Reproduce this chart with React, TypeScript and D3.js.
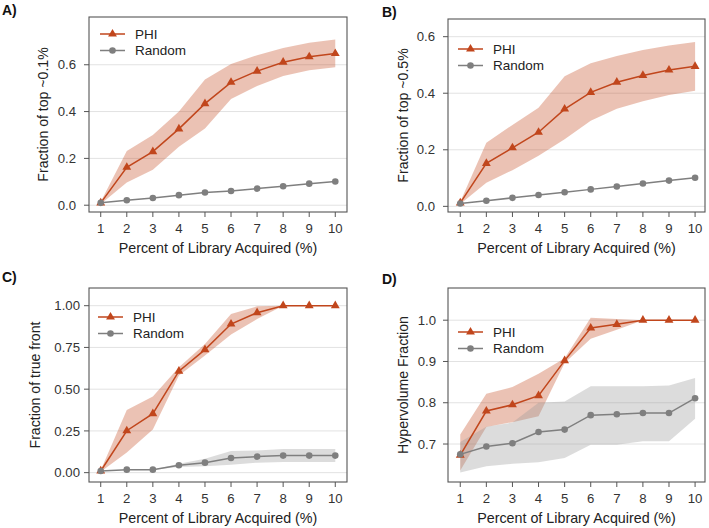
import * as d3 from 'd3';

// percent of library acquired
const pctAcquired = [1, 2, 3, 4, 5, 6, 7, 8, 9, 10];

// A) fraction of top ~0.1%
const phiA = [0.01, 0.162, 0.229, 0.326, 0.434, 0.525, 0.573, 0.611, 0.634, 0.648];
const phiALow = [0.005, 0.097, 0.151, 0.25, 0.328, 0.454, 0.509, 0.552, 0.577, 0.589];
const phiAHigh = [0.015, 0.232, 0.3, 0.4, 0.537, 0.603, 0.641, 0.672, 0.694, 0.708];
const randA = [0.01, 0.021, 0.031, 0.043, 0.054, 0.061, 0.071, 0.081, 0.092, 0.101];

// B) fraction of top ~0.5%
const phiB = [0.012, 0.152, 0.207, 0.262, 0.344, 0.403, 0.439, 0.463, 0.482, 0.495];
const phiBLow = [0.008, 0.083, 0.128, 0.179, 0.237, 0.303, 0.345, 0.372, 0.394, 0.409];
const phiBHigh = [0.016, 0.225, 0.288, 0.349, 0.46, 0.506, 0.532, 0.553, 0.569, 0.581];
const randB = [0.01, 0.02, 0.03, 0.04, 0.05, 0.06, 0.07, 0.081, 0.091, 0.101];

// C) fraction of true front
const phiC = [0.01, 0.251, 0.353, 0.608, 0.737, 0.89, 0.958, 1.0, 1.0, 1.0];
const phiCLow = [0.005, 0.12, 0.259, 0.582, 0.701, 0.827, 0.92, 1.0, 1.0, 1.0];
const phiCHigh = [0.015, 0.376, 0.456, 0.631, 0.771, 0.95, 0.996, 1.0, 1.0, 1.0];
const randC = [0.01, 0.018, 0.018, 0.044, 0.06, 0.088, 0.096, 0.102, 0.102, 0.102];
const randCLow = [0.01, 0.018, 0.018, 0.034, 0.038, 0.048, 0.06, 0.064, 0.064, 0.064];
const randCHigh = [0.01, 0.018, 0.018, 0.054, 0.084, 0.13, 0.133, 0.141, 0.141, 0.141];

// D) hypervolume fraction
const phiD = [0.673, 0.78, 0.795, 0.817, 0.902, 0.981, 0.99, 1.0, 1.0, 1.0];
const phiDLow = [0.636, 0.741, 0.753, 0.767, 0.896, 0.955, 0.977, 1.0, 1.0, 1.0];
const phiDHigh = [0.723, 0.822, 0.838, 0.87, 0.908, 1.006, 1.003, 1.0, 1.0, 1.0];
const randD = [0.675, 0.694, 0.702, 0.729, 0.735, 0.77, 0.772, 0.775, 0.775, 0.811];
const randDLow = [0.631, 0.646, 0.652, 0.656, 0.666, 0.698, 0.698, 0.707, 0.707, 0.761];
const randDHigh = [0.705, 0.742, 0.752, 0.8, 0.803, 0.84, 0.84, 0.84, 0.842, 0.86];

const xTicks = [1, 2, 3, 4, 5, 6, 7, 8, 9, 10];
const xLabel = 'Percent of Library Acquired (%)';
const legendNames = ['PHI', 'Random'];

const PHI = '#c1461c';
const GRAY = '#7f7f7f';
const FONT = 'Liberation Sans, Arial, sans-serif';

const panels = [
  {
    letter: 'A)', lx: 2, ly: 15,
    x0: 89, x1: 347, y0: 17, y1: 212, xDomain: [0.55, 10.45],
    yDomain: [-0.029, 0.804], yTicks: [0, 0.2, 0.4, 0.6], fmt: '.1f',
    yLabel: 'Fraction of top ~0.1%', yLabelX: 43, labelPad: 13,
    legX: 100, legY: 34,
    phi: phiA, phiLow: phiALow, phiHigh: phiAHigh, rand: randA,
  },
  {
    letter: 'B)', lx: 382, ly: 17,
    x0: 448, x1: 705, y0: 19, y1: 212, xDomain: [0.53, 10.38],
    yDomain: [-0.02, 0.6625], yTicks: [0, 0.2, 0.4, 0.6], fmt: '.1f',
    yLabel: 'Fraction of top ~0.5%', yLabelX: 403, labelPad: 13,
    legX: 458, legY: 49,
    phi: phiB, phiLow: phiBLow, phiHigh: phiBHigh, rand: randB,
  },
  {
    letter: 'C)', lx: 2, ly: 282,
    x0: 89, x1: 347, y0: 288, y1: 482, xDomain: [0.55, 10.45],
    yDomain: [-0.056, 1.106], yTicks: [0, 0.25, 0.5, 0.75, 1.0], fmt: '.2f',
    yLabel: 'Fraction of true front', yLabelX: 35, labelPad: 9,
    legX: 98, legY: 317,
    phi: phiC, phiLow: phiCLow, phiHigh: phiCHigh, rand: randC,
    randLow: randCLow, randHigh: randCHigh,
  },
  {
    letter: 'D)', lx: 382, ly: 284,
    x0: 448, x1: 705, y0: 288, y1: 482, xDomain: [0.53, 10.38],
    yDomain: [0.608, 1.078], yTicks: [0.7, 0.8, 0.9, 1.0], fmt: '.1f',
    yLabel: 'Hypervolume Fraction', yLabelX: 403, labelPad: 12,
    legX: 458, legY: 332,
    phi: phiD, phiLow: phiDLow, phiHigh: phiDHigh, rand: randD,
    randLow: randDLow, randHigh: randDHigh,
  },
];

const triangle = d3.symbol().type(d3.symbolTriangle).size(34);

function Panel({ p }: { p: any }) {
  const x = d3.scaleLinear().domain(p.xDomain).range([p.x0, p.x1]);
  const y = d3.scaleLinear().domain(p.yDomain).range([p.y1, p.y0]);
  const fmt = d3.format(p.fmt);

  const line = d3.line<number>().x((_, i) => x(pctAcquired[i])).y((d) => y(d));
  const band = (lo: number[], hi: number[]) =>
    d3.area<number>()
      .x((_, i) => x(pctAcquired[i]))
      .y0((_, i) => y(lo[i]))
      .y1((_, i) => y(hi[i]))(pctAcquired);

  const midY = (p.y0 + p.y1) / 2;

  return (
    <g>
      <text x={p.lx} y={p.ly} fontSize={14} fontWeight="bold" fill="#111">{p.letter}</text>

      {/* grid */}
      {p.yTicks.map((t: number) => (
        <line key={'g' + t} x1={p.x0} x2={p.x1} y1={y(t)} y2={y(t)} stroke="#e2e2e2" strokeWidth={1} />
      ))}

      {/* bands */}
      <path d={band(p.phiLow, p.phiHigh) ?? ''} fill={PHI} fillOpacity={0.33} />
      {p.randLow && (
        <path d={band(p.randLow, p.randHigh) ?? ''} fill="#9a9a9a" fillOpacity={0.35} />
      )}

      {/* PHI */}
      <path d={line(p.phi) ?? ''} fill="none" stroke={PHI} strokeWidth={1.5} />
      {p.phi.map((v: number, i: number) => (
        <path key={'t' + i} d={triangle() ?? ''} transform={`translate(${x(pctAcquired[i])},${y(v)})`} fill={PHI} />
      ))}

      {/* Random */}
      <path d={line(p.rand) ?? ''} fill="none" stroke={GRAY} strokeWidth={1.5} />
      {p.rand.map((v: number, i: number) => (
        <circle key={'c' + i} cx={x(pctAcquired[i])} cy={y(v)} r={3.3} fill={GRAY} />
      ))}

      {/* frame */}
      <rect x={p.x0} y={p.y0} width={p.x1 - p.x0} height={p.y1 - p.y0} fill="none" stroke="#555" strokeWidth={1.1} />

      {/* y axis */}
      {p.yTicks.map((t: number) => (
        <g key={'y' + t}>
          <line x1={p.x0 - 5} x2={p.x0} y1={y(t)} y2={y(t)} stroke="#555" />
          <text x={p.x0 - p.labelPad} y={y(t)} dy="0.35em" textAnchor="end" fontSize={13.2} fill="#333">{fmt(t)}</text>
        </g>
      ))}

      {/* x axis */}
      {xTicks.map((t) => (
        <g key={'x' + t}>
          <line x1={x(t)} x2={x(t)} y1={p.y1} y2={p.y1 + 5} stroke="#555" />
          <text x={x(t)} y={p.y1 + 21} textAnchor="middle" fontSize={13.2} fill="#333">{t}</text>
        </g>
      ))}

      <text x={(p.x0 + p.x1) / 2} y={p.y1 + 41} textAnchor="middle" fontSize={14.3} fill="#222">{xLabel}</text>
      <text transform={`translate(${p.yLabelX},${midY}) rotate(-90)`} textAnchor="middle" dy="0.35em" fontSize={14.1} fill="#222">{p.yLabel}</text>

      {/* legend */}
      {legendNames.map((name, i) => {
        const ly = p.legY + i * 16.5;
        const c = i === 0 ? PHI : GRAY;
        return (
          <g key={name}>
            <line x1={p.legX} x2={p.legX + 25} y1={ly} y2={ly} stroke={c} strokeWidth={1.5} />
            {i === 0 ? (
              <path d={triangle() ?? ''} transform={`translate(${p.legX + 12.5},${ly})`} fill={c} />
            ) : (
              <circle cx={p.legX + 12.5} cy={ly} r={3.3} fill={c} />
            )}
            <text x={p.legX + 35} y={ly} dy="0.35em" fontSize={13.5} fill="#222">{name}</text>
          </g>
        );
      })}
    </g>
  );
}

export default function App() {
  return (
    <svg
      width={709}
      height={528}
      viewBox="0 0 709 528"
      style={{ position: 'absolute', left: 0, top: 0, background: '#fff', fontFamily: FONT }}
    >
      {panels.map((p) => (
        <Panel key={p.letter} p={p} />
      ))}
    </svg>
  );
}
